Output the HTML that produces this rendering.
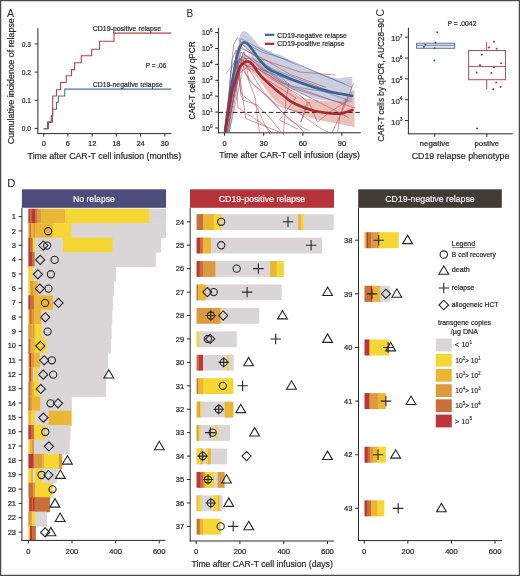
<!DOCTYPE html>
<html><head><meta charset="utf-8"><style>html,body{margin:0;padding:0;background:#fff;}svg text{font-family:"Liberation Sans", sans-serif;} svg{will-change:transform;}</style></head><body>
<svg width="520" height="576" viewBox="0 0 520 576" style="display:block;font-family:&quot;Liberation Sans&quot;, sans-serif">
<rect x="0" y="0" width="520" height="576" fill="#ffffff"/>
<text x="6.9" y="16.8" font-size="10.6" text-anchor="start" fill="#2a2a2a" stroke="#2a2a2a" stroke-width="0.05" >A</text>
<text x="0" y="0" font-size="9.4" text-anchor="middle" fill="#2a2a2a" stroke="#2a2a2a" stroke-width="0.22" textLength="126" lengthAdjust="spacingAndGlyphs" transform="translate(14.3,81.2) rotate(-90)">Cumulative incidence of relapse</text>
<line x1="37.9" y1="28.2" x2="37.9" y2="134.0" stroke="#2a2a2a" stroke-width="1" />
<line x1="37.4" y1="133.6" x2="171.5" y2="133.6" stroke="#2a2a2a" stroke-width="1" />
<line x1="34.6" y1="128.4" x2="37.9" y2="128.4" stroke="#2a2a2a" stroke-width="1" />
<text x="31.0" y="131.20000000000002" font-size="7.6" text-anchor="end" fill="#2a2a2a" stroke="#2a2a2a" stroke-width="0.22" textLength="9.2" lengthAdjust="spacingAndGlyphs" >0.0</text>
<line x1="34.6" y1="100.25" x2="37.9" y2="100.25" stroke="#2a2a2a" stroke-width="1" />
<text x="31.0" y="103.05" font-size="7.6" text-anchor="end" fill="#2a2a2a" stroke="#2a2a2a" stroke-width="0.22" textLength="9.2" lengthAdjust="spacingAndGlyphs" >0.1</text>
<line x1="34.6" y1="72.10000000000001" x2="37.9" y2="72.10000000000001" stroke="#2a2a2a" stroke-width="1" />
<text x="31.0" y="74.9" font-size="7.6" text-anchor="end" fill="#2a2a2a" stroke="#2a2a2a" stroke-width="0.22" textLength="9.2" lengthAdjust="spacingAndGlyphs" >0.2</text>
<line x1="34.6" y1="43.95000000000002" x2="37.9" y2="43.95000000000002" stroke="#2a2a2a" stroke-width="1" />
<text x="31.0" y="46.750000000000014" font-size="7.6" text-anchor="end" fill="#2a2a2a" stroke="#2a2a2a" stroke-width="0.22" textLength="9.2" lengthAdjust="spacingAndGlyphs" >0.3</text>
<line x1="43.75" y1="133.6" x2="43.75" y2="136.6" stroke="#2a2a2a" stroke-width="1" />
<text x="43.75" y="146.2" font-size="7.5" text-anchor="middle" fill="#2a2a2a" stroke="#2a2a2a" stroke-width="0.22" >0</text>
<line x1="67.95" y1="133.6" x2="67.95" y2="136.6" stroke="#2a2a2a" stroke-width="1" />
<text x="67.95" y="146.2" font-size="7.5" text-anchor="middle" fill="#2a2a2a" stroke="#2a2a2a" stroke-width="0.22" >6</text>
<line x1="92.15" y1="133.6" x2="92.15" y2="136.6" stroke="#2a2a2a" stroke-width="1" />
<text x="92.15" y="146.2" font-size="7.5" text-anchor="middle" fill="#2a2a2a" stroke="#2a2a2a" stroke-width="0.22" >12</text>
<line x1="116.35" y1="133.6" x2="116.35" y2="136.6" stroke="#2a2a2a" stroke-width="1" />
<text x="116.35" y="146.2" font-size="7.5" text-anchor="middle" fill="#2a2a2a" stroke="#2a2a2a" stroke-width="0.22" >18</text>
<line x1="140.55" y1="133.6" x2="140.55" y2="136.6" stroke="#2a2a2a" stroke-width="1" />
<text x="140.55" y="146.2" font-size="7.5" text-anchor="middle" fill="#2a2a2a" stroke="#2a2a2a" stroke-width="0.22" >24</text>
<line x1="164.75" y1="133.6" x2="164.75" y2="136.6" stroke="#2a2a2a" stroke-width="1" />
<text x="164.75" y="146.2" font-size="7.5" text-anchor="middle" fill="#2a2a2a" stroke="#2a2a2a" stroke-width="0.22" >30</text>
<text x="27.6" y="159.3" font-size="9.6" text-anchor="start" fill="#2a2a2a" stroke="#2a2a2a" stroke-width="0.22" textLength="153.5" lengthAdjust="spacingAndGlyphs" >Time after CAR-T cell infusion (months)</text>
<path d="M43.75,128.75 L48.50,128.75 L48.50,122.10 L52.50,122.10 L52.50,109.20 L56.50,109.20 L56.50,102.30 L58.30,102.30 L58.30,96.00 L64.80,96.00 L64.80,89.10 L171.30,89.10" fill="none" stroke="#4F6E9C" stroke-width="1.1"/>
<path d="M43.75,128.75 L47.50,128.75 L47.50,122.10 L51.25,122.10 L51.25,115.80 L52.70,115.80 L52.70,96.00 L56.50,96.00 L56.50,89.80 L60.60,89.80 L60.60,82.50 L66.25,82.50 L66.25,75.80 L71.50,75.80 L71.50,69.60 L74.60,69.60 L74.60,62.70 L81.25,62.70 L81.25,55.80 L91.70,55.80 L91.70,49.20 L99.60,49.20 L99.60,41.20 L114.00,41.20 L114.00,33.10 L171.30,33.10" fill="none" stroke="#B8404C" stroke-width="1.1"/>
<text x="92.8" y="31.0" font-size="7.9" text-anchor="start" fill="#2a2a2a" stroke="#2a2a2a" stroke-width="0.22" textLength="68.4" lengthAdjust="spacingAndGlyphs" >CD19-positive relapse</text>
<text x="92.8" y="87.1" font-size="7.9" text-anchor="start" fill="#2a2a2a" stroke="#2a2a2a" stroke-width="0.22" textLength="69.9" lengthAdjust="spacingAndGlyphs" >CD19-negative relapse</text>
<text x="145.8" y="68.3" font-size="7.6" text-anchor="start" fill="#2a2a2a" stroke="#2a2a2a" stroke-width="0.22" textLength="20.5" lengthAdjust="spacingAndGlyphs" >P = .06</text>
<text x="186.6" y="16.8" font-size="10.0" text-anchor="start" fill="#2a2a2a" stroke="#2a2a2a" stroke-width="0.05" >B</text>
<text x="0" y="0" font-size="9.4" text-anchor="middle" fill="#2a2a2a" stroke="#2a2a2a" stroke-width="0.22" textLength="78" lengthAdjust="spacingAndGlyphs" transform="translate(195.2,80.5) rotate(-90)">CAR-T cells by qPCR</text>
<line x1="218.4" y1="27.8" x2="218.4" y2="133.2" stroke="#2a2a2a" stroke-width="1" />
<line x1="217.9" y1="132.8" x2="360.8" y2="132.8" stroke="#2a2a2a" stroke-width="1" />
<line x1="215.2" y1="128.0" x2="218.4" y2="128.0" stroke="#2a2a2a" stroke-width="1" />
<text x="212.6" y="130.7" font-size="7.5" text-anchor="end" fill="#2a2a2a" stroke="#2a2a2a" stroke-width="0.18">10<tspan font-size="4.65" dy="-3.15">0</tspan></text>
<line x1="215.2" y1="112.1" x2="218.4" y2="112.1" stroke="#2a2a2a" stroke-width="1" />
<text x="212.6" y="114.8" font-size="7.5" text-anchor="end" fill="#2a2a2a" stroke="#2a2a2a" stroke-width="0.18">10<tspan font-size="4.65" dy="-3.15">1</tspan></text>
<line x1="215.2" y1="96.2" x2="218.4" y2="96.2" stroke="#2a2a2a" stroke-width="1" />
<text x="212.6" y="98.9" font-size="7.5" text-anchor="end" fill="#2a2a2a" stroke="#2a2a2a" stroke-width="0.18">10<tspan font-size="4.65" dy="-3.15">2</tspan></text>
<line x1="215.2" y1="80.30000000000001" x2="218.4" y2="80.30000000000001" stroke="#2a2a2a" stroke-width="1" />
<text x="212.6" y="83.00000000000001" font-size="7.5" text-anchor="end" fill="#2a2a2a" stroke="#2a2a2a" stroke-width="0.18">10<tspan font-size="4.65" dy="-3.15">3</tspan></text>
<line x1="215.2" y1="64.4" x2="218.4" y2="64.4" stroke="#2a2a2a" stroke-width="1" />
<text x="212.6" y="67.10000000000001" font-size="7.5" text-anchor="end" fill="#2a2a2a" stroke="#2a2a2a" stroke-width="0.18">10<tspan font-size="4.65" dy="-3.15">4</tspan></text>
<line x1="215.2" y1="48.5" x2="218.4" y2="48.5" stroke="#2a2a2a" stroke-width="1" />
<text x="212.6" y="51.2" font-size="7.5" text-anchor="end" fill="#2a2a2a" stroke="#2a2a2a" stroke-width="0.18">10<tspan font-size="4.65" dy="-3.15">5</tspan></text>
<line x1="215.2" y1="32.6" x2="218.4" y2="32.6" stroke="#2a2a2a" stroke-width="1" />
<text x="212.6" y="35.300000000000004" font-size="7.5" text-anchor="end" fill="#2a2a2a" stroke="#2a2a2a" stroke-width="0.18">10<tspan font-size="4.65" dy="-3.15">6</tspan></text>
<line x1="224.6" y1="132.8" x2="224.6" y2="135.8" stroke="#2a2a2a" stroke-width="1" />
<text x="224.6" y="146.2" font-size="7.5" text-anchor="middle" fill="#2a2a2a" stroke="#2a2a2a" stroke-width="0.22" >0</text>
<line x1="263.699" y1="132.8" x2="263.699" y2="135.8" stroke="#2a2a2a" stroke-width="1" />
<text x="263.699" y="146.2" font-size="7.5" text-anchor="middle" fill="#2a2a2a" stroke="#2a2a2a" stroke-width="0.22" >30</text>
<line x1="302.798" y1="132.8" x2="302.798" y2="135.8" stroke="#2a2a2a" stroke-width="1" />
<text x="302.798" y="146.2" font-size="7.5" text-anchor="middle" fill="#2a2a2a" stroke="#2a2a2a" stroke-width="0.22" >60</text>
<line x1="341.897" y1="132.8" x2="341.897" y2="135.8" stroke="#2a2a2a" stroke-width="1" />
<text x="341.897" y="146.2" font-size="7.5" text-anchor="middle" fill="#2a2a2a" stroke="#2a2a2a" stroke-width="0.22" >90</text>
<text x="219.2" y="158.3" font-size="9.6" text-anchor="start" fill="#2a2a2a" stroke="#2a2a2a" stroke-width="0.22" textLength="140.7" lengthAdjust="spacingAndGlyphs" >Time after CAR-T cell infusion (days)</text>
<path d="M240.00,63.00 C240.25,61.83 240.80,57.33 241.50,56.00 C242.20,54.67 242.37,54.83 244.20,55.00 C246.03,55.17 249.73,55.43 252.50,57.00 C255.27,58.57 257.67,61.62 260.80,64.40 C263.93,67.18 268.10,71.10 271.30,73.70 C274.50,76.30 276.30,76.87 280.00,80.00 C283.70,83.13 289.92,89.67 293.50,92.50 C297.08,95.33 298.30,95.83 301.50,97.00 C304.70,98.17 307.63,98.75 312.70,99.50 C317.77,100.25 326.77,101.42 331.90,101.50 C337.03,101.58 340.32,101.58 343.50,100.00 C346.68,98.42 349.17,93.83 351.00,92.00 C352.83,90.17 353.92,89.50 354.50,89.00 L354.50,128.00 C354.00,127.75 355.27,127.42 351.50,126.50 C347.73,125.58 338.37,123.83 331.90,122.50 C325.43,121.17 319.10,120.33 312.70,118.50 C306.30,116.67 299.92,114.58 293.50,111.50 C287.08,108.42 279.65,104.92 274.20,100.00 C268.75,95.08 264.42,86.50 260.80,82.00 C257.18,77.50 255.27,75.33 252.50,73.00 C249.73,70.67 246.28,69.67 244.20,68.00 C242.12,66.33 240.70,63.83 240.00,63.00 Z" fill="#D98C84" fill-opacity="0.55" stroke="none"/>
<path d="M238.50,41.00 C238.83,39.83 239.55,35.67 240.50,34.00 C241.45,32.33 242.55,30.80 244.20,31.00 C245.85,31.20 248.50,33.45 250.40,35.20 C252.30,36.95 253.87,39.58 255.60,41.50 C257.33,43.42 258.18,44.97 260.80,46.70 C263.42,48.43 268.10,50.52 271.30,51.90 C274.50,53.28 277.38,53.90 280.00,55.00 C282.62,56.10 284.75,57.25 287.00,58.50 C289.25,59.75 291.08,61.00 293.50,62.50 C295.92,64.00 298.30,66.00 301.50,67.50 C304.70,69.00 308.90,70.28 312.70,71.50 C316.50,72.72 320.33,73.68 324.30,74.80 C328.27,75.92 333.05,77.75 336.50,78.20 C339.95,78.65 342.38,77.78 345.00,77.50 C347.62,77.22 351.00,76.67 352.20,76.50 L352.20,102.00 C351.00,102.17 347.53,103.00 345.00,103.00 C342.47,103.00 340.33,102.42 337.00,102.00 C333.67,101.58 329.05,101.17 325.00,100.50 C320.95,99.83 316.03,98.83 312.70,98.00 C309.37,97.17 308.20,96.83 305.00,95.50 C301.80,94.17 296.83,91.58 293.50,90.00 C290.17,88.42 288.22,87.67 285.00,86.00 C281.78,84.33 277.53,82.17 274.20,80.00 C270.87,77.83 268.20,76.00 265.00,73.00 C261.80,70.00 257.50,65.33 255.00,62.00 C252.50,58.67 251.83,55.67 250.00,53.00 C248.17,50.33 245.92,48.00 244.00,46.00 C242.08,44.00 239.42,41.83 238.50,41.00 Z" fill="#8E92B4" fill-opacity="0.45" stroke="none"/>
<path d="M225.0,133.0 L233.6,44.8 L237.3,37.5 L243.0,45.0 L258.0,58.0 L300.0,72.0 L335.4,75.1" fill="none" stroke="#B03A48" stroke-width="0.65" stroke-opacity="0.8"/>
<path d="M226.0,133.0 L232.0,60.0 L236.0,50.0 L241.0,95.4 L242.6,100.0 L256.5,104.6 L270.0,118.0 L282.0,133.0" fill="none" stroke="#B03A48" stroke-width="0.65" stroke-opacity="0.8"/>
<path d="M225.0,133.0 L235.0,70.0 L244.0,52.0 L248.8,80.0 L276.5,104.6 L298.0,112.3 L320.0,128.0 L330.0,133.0" fill="none" stroke="#B03A48" stroke-width="0.65" stroke-opacity="0.8"/>
<path d="M226.0,133.0 L237.0,62.0 L253.4,84.6 L264.0,93.8 L285.7,115.4 L298.0,126.0 L305.0,133.0" fill="none" stroke="#B03A48" stroke-width="0.65" stroke-opacity="0.8"/>
<path d="M225.0,133.0 L238.0,66.0 L241.0,93.8 L256.5,106.2 L264.0,123.0 L270.3,135.0" fill="none" stroke="#B03A48" stroke-width="0.65" stroke-opacity="0.8"/>
<path d="M228.0,133.0 L240.0,58.0 L255.0,97.0 L259.5,133.0" fill="none" stroke="#B03A48" stroke-width="0.65" stroke-opacity="0.8"/>
<path d="M225.0,133.0 L236.0,76.0 L238.0,107.7 L265.7,126.0 L272.0,133.0" fill="none" stroke="#B03A48" stroke-width="0.65" stroke-opacity="0.8"/>
<path d="M227.0,133.0 L239.0,70.0 L245.7,118.5 L276.5,130.8 L280.0,133.0" fill="none" stroke="#B03A48" stroke-width="0.65" stroke-opacity="0.8"/>
<path d="M226.0,133.0 L240.0,48.0 L262.0,58.0 L290.0,74.4 L326.0,87.4" fill="none" stroke="#B03A48" stroke-width="0.65" stroke-opacity="0.8"/>
<path d="M225.0,133.0 L241.0,52.0 L262.0,68.0 L290.0,87.4 L349.0,117.7" fill="none" stroke="#B03A48" stroke-width="0.65" stroke-opacity="0.8"/>
<path d="M227.0,133.0 L242.0,56.0 L270.0,78.0 L300.8,96.0 L307.3,101.8 L300.8,122.0 L308.8,101.8 L317.4,122.0 L330.0,112.0 L349.0,100.0" fill="none" stroke="#B03A48" stroke-width="0.65" stroke-opacity="0.8"/>
<path d="M225.0,133.0 L243.0,60.0 L262.0,90.0 L290.0,120.6 L308.8,130.7" fill="none" stroke="#B03A48" stroke-width="0.65" stroke-opacity="0.8"/>
<path d="M229.0,133.0 L244.0,64.0 L275.0,85.0 L296.0,98.0 L279.5,120.0 L298.0,129.2" fill="none" stroke="#B03A48" stroke-width="0.65" stroke-opacity="0.8"/>
<path d="M288.8,83.0 L286.0,100.0 L283.4,135.0" fill="none" stroke="#B03A48" stroke-width="0.65" stroke-opacity="0.8"/>
<path d="M353.5,83.0 L345.0,105.0 L331.8,133.0" fill="none" stroke="#B03A48" stroke-width="0.65" stroke-opacity="0.8"/>
<path d="M346.0,99.0 L340.0,115.0 L337.6,133.0" fill="none" stroke="#B03A48" stroke-width="0.65" stroke-opacity="0.8"/>
<path d="M225.0,133.0 L238.0,75.0 L250.0,64.0 L280.0,82.0 L320.0,96.0 L355.0,108.0" fill="none" stroke="#B03A48" stroke-width="0.65" stroke-opacity="0.8"/>
<path d="M226.0,133.0 L231.0,70.0 L243.0,42.0 L262.0,52.0 L290.0,60.7 L352.0,87.4" fill="none" stroke="#4F70A0" stroke-width="0.65" stroke-opacity="0.85"/>
<path d="M225.8,74.0 L236.0,60.0 L243.0,64.6 L270.0,72.0 L290.0,86.0 L350.6,96.0" fill="none" stroke="#4F70A0" stroke-width="0.65" stroke-opacity="0.85"/>
<path d="M227.0,133.0 L236.0,53.0 L241.0,38.5 L262.0,50.0 L300.0,66.0 L345.0,84.0" fill="none" stroke="#4F70A0" stroke-width="0.65" stroke-opacity="0.85"/>
<path d="M228.0,133.0 L241.0,47.0 L258.0,58.0 L294.3,88.8 L342.0,103.3" fill="none" stroke="#4F70A0" stroke-width="0.65" stroke-opacity="0.85"/>
<path d="M225.0,133.0 L238.0,60.0 L250.0,58.0 L275.0,70.0 L330.0,91.0 L352.0,95.0" fill="none" stroke="#4F70A0" stroke-width="0.65" stroke-opacity="0.85"/>
<path d="M229.0,133.0 L243.0,52.0 L262.0,70.0 L290.0,80.0 L348.0,100.0" fill="none" stroke="#4F70A0" stroke-width="0.65" stroke-opacity="0.85"/>
<line x1="218.4" y1="112.4" x2="360" y2="112.4" stroke="#222" stroke-width="1.0" stroke-dasharray="4.6,2.6"/>
<path d="M225.10,131.00 C225.90,125.00 228.30,105.57 229.90,95.00 C231.50,84.43 233.48,74.20 234.70,67.60 C235.92,61.00 236.18,59.17 237.20,55.40 C238.22,51.63 239.63,47.18 240.80,45.00 C241.97,42.82 242.95,42.37 244.20,42.30 C245.45,42.23 246.92,43.35 248.30,44.60 C249.68,45.85 251.10,47.90 252.50,49.80 C253.90,51.70 255.32,54.08 256.70,56.00 C258.08,57.92 259.25,59.47 260.80,61.30 C262.35,63.13 264.25,65.45 266.00,67.00 C267.75,68.55 268.97,69.40 271.30,70.60 C273.63,71.80 276.30,72.63 280.00,74.20 C283.70,75.77 288.05,77.90 293.50,80.00 C298.95,82.10 306.30,84.75 312.70,86.80 C319.10,88.85 325.32,90.80 331.90,92.30 C338.48,93.80 348.82,95.22 352.20,95.80" fill="none" stroke="#3F6390" stroke-width="2.6" stroke-linecap="round"/>
<path d="M225.10,131.00 C226.10,125.00 229.28,103.75 231.10,95.00 C232.92,86.25 234.52,83.17 236.00,78.50 C237.48,73.83 238.63,69.70 240.00,67.00 C241.37,64.30 242.82,63.20 244.20,62.30 C245.58,61.40 246.92,61.25 248.30,61.60 C249.68,61.95 251.10,62.90 252.50,64.40 C253.90,65.90 255.32,68.70 256.70,70.60 C258.08,72.50 259.25,74.07 260.80,75.80 C262.35,77.53 264.25,79.37 266.00,81.00 C267.75,82.63 269.80,84.27 271.30,85.60 C272.80,86.93 272.92,87.27 275.00,89.00 C277.08,90.73 280.72,93.67 283.80,96.00 C286.88,98.33 288.68,100.58 293.50,103.00 C298.32,105.42 306.30,108.75 312.70,110.50 C319.10,112.25 327.10,113.00 331.90,113.50 C336.70,114.00 338.07,114.08 341.50,113.50 C344.93,112.92 350.67,110.58 352.50,110.00" fill="none" stroke="#A52A35" stroke-width="2.6" stroke-linecap="round"/>
<line x1="264.8" y1="34.8" x2="274.4" y2="34.8" stroke="#3F6390" stroke-width="2.2" />
<line x1="264.8" y1="43.8" x2="274.4" y2="43.8" stroke="#A52A35" stroke-width="2.2" />
<text x="277.3" y="37.5" font-size="7.8" text-anchor="start" fill="#2a2a2a" stroke="#2a2a2a" stroke-width="0.22" textLength="69.6" lengthAdjust="spacingAndGlyphs" >CD19-negative relapse</text>
<text x="277.3" y="46.3" font-size="7.8" text-anchor="start" fill="#2a2a2a" stroke="#2a2a2a" stroke-width="0.22" textLength="67.3" lengthAdjust="spacingAndGlyphs" >CD19-positive relapse</text>
<text x="0" y="0" font-size="10.6" text-anchor="middle" fill="#2a2a2a" transform="translate(383.6,12.6) rotate(-90)">C</text>
<text x="0" y="0" font-size="9.6" text-anchor="middle" fill="#2a2a2a" stroke="#2a2a2a" stroke-width="0.22" textLength="123.5" lengthAdjust="spacingAndGlyphs" transform="translate(384.4,80.0) rotate(-90)">CAR-T cells by qPCR, AUC28–90</text>
<line x1="408.4" y1="27.7" x2="408.4" y2="134.2" stroke="#2a2a2a" stroke-width="1" />
<line x1="407.9" y1="133.8" x2="512.8" y2="133.8" stroke="#2a2a2a" stroke-width="1" />
<line x1="405.0" y1="120.60000000000001" x2="408.4" y2="120.60000000000001" stroke="#2a2a2a" stroke-width="1" />
<text x="402.6" y="124.60000000000001" font-size="7.9" text-anchor="end" fill="#2a2a2a" stroke="#2a2a2a" stroke-width="0.18">10<tspan font-size="4.90" dy="-3.32">3</tspan></text>
<line x1="405.0" y1="99.75" x2="408.4" y2="99.75" stroke="#2a2a2a" stroke-width="1" />
<text x="402.6" y="103.75" font-size="7.9" text-anchor="end" fill="#2a2a2a" stroke="#2a2a2a" stroke-width="0.18">10<tspan font-size="4.90" dy="-3.32">4</tspan></text>
<line x1="405.0" y1="78.9" x2="408.4" y2="78.9" stroke="#2a2a2a" stroke-width="1" />
<text x="402.6" y="82.9" font-size="7.9" text-anchor="end" fill="#2a2a2a" stroke="#2a2a2a" stroke-width="0.18">10<tspan font-size="4.90" dy="-3.32">5</tspan></text>
<line x1="405.0" y1="58.050000000000004" x2="408.4" y2="58.050000000000004" stroke="#2a2a2a" stroke-width="1" />
<text x="402.6" y="62.050000000000004" font-size="7.9" text-anchor="end" fill="#2a2a2a" stroke="#2a2a2a" stroke-width="0.18">10<tspan font-size="4.90" dy="-3.32">6</tspan></text>
<line x1="405.0" y1="37.2" x2="408.4" y2="37.2" stroke="#2a2a2a" stroke-width="1" />
<text x="402.6" y="41.2" font-size="7.9" text-anchor="end" fill="#2a2a2a" stroke="#2a2a2a" stroke-width="0.18">10<tspan font-size="4.90" dy="-3.32">7</tspan></text>
<line x1="434.7" y1="133.8" x2="434.7" y2="136.8" stroke="#2a2a2a" stroke-width="1" />
<line x1="486.9" y1="133.8" x2="486.9" y2="136.8" stroke="#2a2a2a" stroke-width="1" />
<text x="434.6" y="146.2" font-size="7.4" text-anchor="middle" fill="#2a2a2a" stroke="#2a2a2a" stroke-width="0.22" textLength="30" lengthAdjust="spacingAndGlyphs" >negative</text>
<text x="486.8" y="146.2" font-size="7.4" text-anchor="middle" fill="#2a2a2a" stroke="#2a2a2a" stroke-width="0.22" textLength="24.5" lengthAdjust="spacingAndGlyphs" >postive</text>
<text x="411.7" y="159.3" font-size="9.8" text-anchor="start" fill="#2a2a2a" stroke="#2a2a2a" stroke-width="0.22" textLength="97.7" lengthAdjust="spacingAndGlyphs" >CD19 relapse phenotype</text>
<text x="461.9" y="25.8" font-size="7.6" text-anchor="middle" fill="#2a2a2a" stroke="#2a2a2a" stroke-width="0.22" textLength="29" lengthAdjust="spacingAndGlyphs" >P = .0042</text>
<rect x="416.6" y="43.2" width="38" height="5.1" fill="#E3E6EC" stroke="#5A7099" stroke-width="0.95"/>
<line x1="416.6" y1="45.3" x2="454.6" y2="45.3" stroke="#5A7099" stroke-width="0.85" />
<rect x="468.6" y="50.5" width="36.9" height="29.2" fill="none" stroke="#B84C57" stroke-width="1"/>
<line x1="468.6" y1="66.4" x2="505.5" y2="66.4" stroke="#B84C57" stroke-width="1" />
<line x1="486.7" y1="42.1" x2="486.7" y2="50.5" stroke="#B84C57" stroke-width="1" />
<line x1="486.7" y1="79.7" x2="486.7" y2="89.0" stroke="#B84C57" stroke-width="1" />
<circle cx="437.2" cy="32.2" r="0.95" fill="#34548A"/>
<circle cx="425.4" cy="44.8" r="0.95" fill="#34548A"/>
<circle cx="423.9" cy="47" r="0.95" fill="#34548A"/>
<circle cx="435.4" cy="42.6" r="0.95" fill="#34548A"/>
<circle cx="434.7" cy="48.3" r="0.95" fill="#34548A"/>
<circle cx="434.3" cy="60.5" r="0.95" fill="#34548A"/>
<circle cx="494" cy="41.7" r="1.0" fill="#AA303C"/>
<circle cx="488.9" cy="47.6" r="1.0" fill="#AA303C"/>
<circle cx="496.6" cy="48.7" r="1.0" fill="#AA303C"/>
<circle cx="481.8" cy="54.7" r="1.0" fill="#AA303C"/>
<circle cx="501" cy="63.3" r="1.0" fill="#AA303C"/>
<circle cx="480" cy="65.3" r="1.0" fill="#AA303C"/>
<circle cx="494" cy="67.5" r="1.0" fill="#AA303C"/>
<circle cx="476.7" cy="72.4" r="1.0" fill="#AA303C"/>
<circle cx="491.3" cy="73.1" r="1.0" fill="#AA303C"/>
<circle cx="496.2" cy="82.4" r="1.0" fill="#AA303C"/>
<circle cx="500.6" cy="87" r="1.0" fill="#AA303C"/>
<circle cx="493.3" cy="89.2" r="1.0" fill="#AA303C"/>
<circle cx="477" cy="128.4" r="1.0" fill="#AA303C"/>
<text x="7.2" y="186.8" font-size="11.2" text-anchor="start" fill="#2a2a2a" stroke="#2a2a2a" stroke-width="0.05" >D</text>
<rect x="21.90" y="189.30" width="144.10" height="18.50" fill="#4E4C7A" />
<text x="93.95" y="201.8" font-size="9.2" text-anchor="middle" fill="#F6F6F6" stroke="#F6F6F6" stroke-width="0.2" textLength="41.8" lengthAdjust="spacingAndGlyphs" >No relapse</text>
<rect x="190.00" y="189.30" width="144.00" height="18.50" fill="#B5343A" />
<text x="262.0" y="201.8" font-size="9.2" text-anchor="middle" fill="#F6F6F6" stroke="#F6F6F6" stroke-width="0.2" textLength="86.5" lengthAdjust="spacingAndGlyphs" >CD19-positive relapse</text>
<rect x="358.20" y="189.30" width="143.60" height="18.50" fill="#403B35" />
<text x="430.0" y="201.8" font-size="9.2" text-anchor="middle" fill="#F6F6F6" stroke="#F6F6F6" stroke-width="0.2" textLength="89.4" lengthAdjust="spacingAndGlyphs" >CD19-negative relapse</text>
<rect x="28.40" y="208.80" width="137.60" height="15.00" fill="#DAD6D7" />
<rect x="28.40" y="208.80" width="1.90" height="15.00" fill="#BF353A" />
<rect x="29.80" y="208.80" width="2.40" height="15.00" fill="#C8703A" />
<rect x="31.70" y="208.80" width="3.90" height="15.00" fill="#BF353A" />
<rect x="35.10" y="208.80" width="2.40" height="15.00" fill="#C8703A" />
<rect x="37.00" y="208.80" width="4.40" height="15.00" fill="#DC9A3F" />
<rect x="40.90" y="208.80" width="24.70" height="15.00" fill="#EBB633" />
<rect x="65.10" y="208.80" width="84.30" height="15.00" fill="#F5D632" />
<rect x="28.40" y="223.22" width="137.60" height="15.00" fill="#DAD6D7" />
<rect x="28.40" y="223.22" width="1.60" height="15.00" fill="#EBB633" />
<rect x="29.50" y="223.22" width="2.00" height="15.00" fill="#C8703A" />
<rect x="31.00" y="223.22" width="2.70" height="15.00" fill="#EBB633" />
<rect x="33.20" y="223.22" width="2.40" height="15.00" fill="#DC9A3F" />
<rect x="35.10" y="223.22" width="18.30" height="15.00" fill="#EBB633" />
<rect x="52.90" y="223.22" width="18.70" height="15.00" fill="#F5D632" />
<rect x="28.40" y="237.64" width="132.60" height="15.00" fill="#DAD6D7" />
<rect x="28.40" y="237.64" width="1.90" height="15.00" fill="#BF353A" />
<rect x="29.80" y="237.64" width="3.40" height="15.00" fill="#C8703A" />
<rect x="32.70" y="237.64" width="2.40" height="15.00" fill="#F5D632" />
<rect x="63.00" y="237.64" width="49.40" height="15.00" fill="#F5D632" />
<rect x="28.40" y="252.06" width="127.50" height="15.00" fill="#DAD6D7" />
<rect x="28.40" y="252.06" width="4.30" height="15.00" fill="#BF353A" />
<rect x="32.20" y="252.06" width="2.40" height="15.00" fill="#C8703A" />
<rect x="28.40" y="266.48" width="87.50" height="15.00" fill="#DAD6D7" />
<rect x="28.40" y="266.48" width="4.30" height="15.00" fill="#F5D632" />
<rect x="28.40" y="280.90" width="85.60" height="15.00" fill="#DAD6D7" />
<rect x="28.40" y="280.90" width="2.40" height="15.00" fill="#F5D632" />
<rect x="30.30" y="280.90" width="3.20" height="15.00" fill="#DC9A3F" />
<rect x="33.00" y="280.90" width="4.70" height="15.00" fill="#EBB633" />
<rect x="28.40" y="295.32" width="84.50" height="15.00" fill="#DAD6D7" />
<rect x="28.40" y="295.32" width="2.50" height="15.00" fill="#BF353A" />
<rect x="30.40" y="295.32" width="4.00" height="15.00" fill="#C8703A" />
<rect x="33.90" y="295.32" width="19.10" height="15.00" fill="#EBB633" />
<rect x="28.40" y="309.74" width="83.90" height="15.00" fill="#DAD6D7" />
<rect x="28.40" y="309.74" width="1.50" height="15.00" fill="#F5D632" />
<rect x="29.40" y="309.74" width="2.60" height="15.00" fill="#C8703A" />
<rect x="31.50" y="309.74" width="3.00" height="15.00" fill="#DC9A3F" />
<rect x="34.00" y="309.74" width="7.20" height="15.00" fill="#EBB633" />
<rect x="28.40" y="324.16" width="83.30" height="15.00" fill="#DAD6D7" />
<rect x="28.40" y="324.16" width="3.60" height="15.00" fill="#DC9A3F" />
<rect x="31.50" y="324.16" width="2.00" height="15.00" fill="#EBB633" />
<rect x="33.00" y="324.16" width="2.00" height="15.00" fill="#DC9A3F" />
<rect x="34.50" y="324.16" width="7.50" height="15.00" fill="#F5D632" />
<rect x="28.40" y="338.58" width="82.50" height="15.00" fill="#DAD6D7" />
<rect x="28.40" y="338.58" width="2.60" height="15.00" fill="#C8703A" />
<rect x="30.50" y="338.58" width="5.00" height="15.00" fill="#EBB633" />
<rect x="35.00" y="338.58" width="11.40" height="15.00" fill="#F5D632" />
<rect x="28.40" y="353.00" width="79.60" height="15.00" fill="#DAD6D7" />
<rect x="28.40" y="353.00" width="1.50" height="15.00" fill="#EBB633" />
<rect x="29.40" y="353.00" width="2.10" height="15.00" fill="#BF353A" />
<rect x="31.00" y="353.00" width="3.50" height="15.00" fill="#DC9A3F" />
<rect x="34.00" y="353.00" width="5.80" height="15.00" fill="#EBB633" />
<rect x="28.40" y="367.42" width="78.10" height="15.00" fill="#DAD6D7" />
<rect x="28.40" y="367.42" width="1.40" height="15.00" fill="#F5D632" />
<rect x="29.30" y="367.42" width="2.00" height="15.00" fill="#BF353A" />
<rect x="30.80" y="367.42" width="2.00" height="15.00" fill="#DC9A3F" />
<rect x="34.40" y="367.42" width="3.60" height="15.00" fill="#F5D632" />
<rect x="28.40" y="381.84" width="77.60" height="15.00" fill="#DAD6D7" />
<rect x="28.40" y="381.84" width="2.10" height="15.00" fill="#C8703A" />
<rect x="30.00" y="381.84" width="2.50" height="15.00" fill="#DC9A3F" />
<rect x="32.00" y="381.84" width="2.50" height="15.00" fill="#EBB633" />
<rect x="34.00" y="381.84" width="4.80" height="15.00" fill="#F5D632" />
<rect x="28.40" y="396.26" width="43.50" height="15.00" fill="#DAD6D7" />
<rect x="28.40" y="396.26" width="2.10" height="15.00" fill="#C8703A" />
<rect x="30.00" y="396.26" width="2.50" height="15.00" fill="#DC9A3F" />
<rect x="32.00" y="396.26" width="8.30" height="15.00" fill="#EBB633" />
<rect x="28.40" y="410.68" width="43.10" height="15.00" fill="#DAD6D7" />
<rect x="28.40" y="410.68" width="3.10" height="15.00" fill="#EBB633" />
<rect x="31.00" y="410.68" width="3.80" height="15.00" fill="#F5D632" />
<rect x="48.60" y="410.68" width="22.90" height="15.00" fill="#EBB633" />
<rect x="28.40" y="425.10" width="42.10" height="15.00" fill="#DAD6D7" />
<rect x="28.40" y="425.10" width="3.10" height="15.00" fill="#BF353A" />
<rect x="31.00" y="425.10" width="3.50" height="15.00" fill="#C8703A" />
<rect x="34.00" y="425.10" width="11.00" height="15.00" fill="#F5D632" />
<rect x="28.40" y="439.52" width="41.20" height="15.00" fill="#DAD6D7" />
<rect x="28.40" y="439.52" width="2.10" height="15.00" fill="#F5D632" />
<rect x="30.00" y="439.52" width="2.50" height="15.00" fill="#EBB633" />
<rect x="32.00" y="439.52" width="2.00" height="15.00" fill="#DC9A3F" />
<rect x="28.40" y="453.94" width="5.60" height="15.00" fill="#BF353A" />
<rect x="33.50" y="453.94" width="9.30" height="15.00" fill="#DC9A3F" />
<rect x="42.30" y="453.94" width="2.20" height="15.00" fill="#EBB633" />
<rect x="44.00" y="453.94" width="15.50" height="15.00" fill="#F5D632" />
<rect x="59.00" y="453.94" width="3.30" height="15.00" fill="#DC9A3F" />
<rect x="28.40" y="468.36" width="28.20" height="15.00" fill="#DAD6D7" />
<rect x="28.40" y="468.36" width="3.10" height="15.00" fill="#F5D632" />
<rect x="31.00" y="468.36" width="2.00" height="15.00" fill="#EBB633" />
<rect x="35.00" y="468.36" width="7.00" height="15.00" fill="#F5D632" />
<rect x="28.40" y="482.78" width="4.90" height="15.00" fill="#C8703A" />
<rect x="32.80" y="482.78" width="2.70" height="15.00" fill="#DC9A3F" />
<rect x="35.00" y="482.78" width="17.70" height="15.00" fill="#F5D632" />
<rect x="28.40" y="497.20" width="1.30" height="15.00" fill="#F5D632" />
<rect x="29.20" y="497.20" width="2.90" height="15.00" fill="#BF353A" />
<rect x="31.60" y="497.20" width="1.90" height="15.00" fill="#C8703A" />
<rect x="33.00" y="497.20" width="2.00" height="15.00" fill="#BF353A" />
<rect x="34.50" y="497.20" width="15.50" height="15.00" fill="#C8703A" />
<rect x="28.40" y="511.62" width="18.60" height="15.00" fill="#DAD6D7" />
<rect x="28.40" y="511.62" width="3.70" height="15.00" fill="#DC9A3F" />
<rect x="31.60" y="511.62" width="3.20" height="15.00" fill="#F5D632" />
<rect x="28.40" y="526.04" width="2.00" height="14.10" fill="#F5D632" />
<rect x="29.90" y="526.04" width="2.80" height="14.10" fill="#BF353A" />
<rect x="32.20" y="526.04" width="3.70" height="14.10" fill="#C8703A" />
<circle cx="48.1" cy="231.24" r="3.6" fill="none" stroke="#262626" stroke-width="1.1"/>
<path d="M38.70,245.58 L43.30,240.98 L47.90,245.58 L43.30,250.18 Z" fill="none" stroke="#262626" stroke-width="1.1"/>
<circle cx="47.1" cy="245.58" r="3.6" fill="none" stroke="#262626" stroke-width="1.1"/>
<path d="M35.60,259.92 L40.20,255.32 L44.80,259.92 L40.20,264.52 Z" fill="none" stroke="#262626" stroke-width="1.1"/>
<circle cx="54.6" cy="259.92" r="3.6" fill="none" stroke="#262626" stroke-width="1.1"/>
<path d="M33.30,274.26 L37.90,269.66 L42.50,274.26 L37.90,278.86 Z" fill="none" stroke="#262626" stroke-width="1.1"/>
<circle cx="50.9" cy="274.26" r="3.6" fill="none" stroke="#262626" stroke-width="1.1"/>
<path d="M35.20,288.60 L39.80,284.00 L44.40,288.60 L39.80,293.20 Z" fill="none" stroke="#262626" stroke-width="1.1"/>
<circle cx="48.5" cy="288.6" r="3.6" fill="none" stroke="#262626" stroke-width="1.1"/>
<circle cx="45" cy="302.94" r="3.6" fill="none" stroke="#262626" stroke-width="1.1"/>
<path d="M53.90,302.94 L58.50,298.34 L63.10,302.94 L58.50,307.54 Z" fill="none" stroke="#262626" stroke-width="1.1"/>
<path d="M40.70,317.28 L45.30,312.68 L49.90,317.28 L45.30,321.88 Z" fill="none" stroke="#262626" stroke-width="1.1"/>
<circle cx="47.6" cy="331.62" r="3.6" fill="none" stroke="#262626" stroke-width="1.1"/>
<path d="M35.70,345.96 L40.30,341.36 L44.90,345.96 L40.30,350.56 Z" fill="none" stroke="#262626" stroke-width="1.1"/>
<path d="M39.50,360.30 L44.10,355.70 L48.70,360.30 L44.10,364.90 Z" fill="none" stroke="#262626" stroke-width="1.1"/>
<circle cx="51.9" cy="360.3" r="3.6" fill="none" stroke="#262626" stroke-width="1.1"/>
<path d="M38.70,374.64 L43.30,370.04 L47.90,374.64 L43.30,379.24 Z" fill="none" stroke="#262626" stroke-width="1.1"/>
<circle cx="53.2" cy="374.64000000000004" r="3.6" fill="none" stroke="#262626" stroke-width="1.1"/>
<path d="M103.90,378.04 L108.80,369.64 L113.70,378.04 Z" fill="none" stroke="#262626" stroke-width="1.1" stroke-linejoin="miter"/>
<path d="M36.20,388.98 L40.80,384.38 L45.40,388.98 L40.80,393.58 Z" fill="none" stroke="#262626" stroke-width="1.1"/>
<circle cx="50.5" cy="403.32" r="3.6" fill="none" stroke="#262626" stroke-width="1.1"/>
<path d="M53.40,403.32 L58.00,398.72 L62.60,403.32 L58.00,407.92 Z" fill="none" stroke="#262626" stroke-width="1.1"/>
<path d="M38.80,417.66 L43.40,413.06 L48.00,417.66 L43.40,422.26 Z" fill="none" stroke="#262626" stroke-width="1.1"/>
<circle cx="45.3" cy="432.0" r="3.6" fill="none" stroke="#262626" stroke-width="1.1"/>
<path d="M44.30,446.34 L48.90,441.74 L53.50,446.34 L48.90,450.94 Z" fill="none" stroke="#262626" stroke-width="1.1"/>
<path d="M154.40,449.74 L159.30,441.34 L164.20,449.74 Z" fill="none" stroke="#262626" stroke-width="1.1" stroke-linejoin="miter"/>
<path d="M62.50,464.08 L67.40,455.68 L72.30,464.08 Z" fill="none" stroke="#262626" stroke-width="1.1" stroke-linejoin="miter"/>
<circle cx="41.5" cy="475.02000000000004" r="3.6" fill="none" stroke="#262626" stroke-width="1.1"/>
<path d="M43.80,475.02 L48.40,470.42 L53.00,475.02 L48.40,479.62 Z" fill="none" stroke="#262626" stroke-width="1.1"/>
<path d="M55.50,478.42 L60.40,470.02 L65.30,478.42 Z" fill="none" stroke="#262626" stroke-width="1.1" stroke-linejoin="miter"/>
<circle cx="52.5" cy="489.35999999999996" r="3.6" fill="none" stroke="#262626" stroke-width="1.1"/>
<path d="M50.10,507.10 L55.00,498.70 L59.90,507.10 Z" fill="none" stroke="#262626" stroke-width="1.1" stroke-linejoin="miter"/>
<path d="M55.20,521.44 L60.10,513.04 L65.00,521.44 Z" fill="none" stroke="#262626" stroke-width="1.1" stroke-linejoin="miter"/>
<path d="M40.50,532.38 L45.10,527.78 L49.70,532.38 L45.10,536.98 Z" fill="none" stroke="#262626" stroke-width="1.1"/>
<path d="M46.00,535.78 L50.90,527.38 L55.80,535.78 Z" fill="none" stroke="#262626" stroke-width="1.1" stroke-linejoin="miter"/>
<line x1="21.9" y1="207.8" x2="21.9" y2="540.9" stroke="#2a2a2a" stroke-width="1" />
<line x1="21.4" y1="540.4" x2="165.5" y2="540.4" stroke="#2a2a2a" stroke-width="1" />
<line x1="18.6" y1="216.6" x2="21.9" y2="216.6" stroke="#2a2a2a" stroke-width="1" />
<text x="16.0" y="219.29999999999998" font-size="7.5" text-anchor="end" fill="#2a2a2a" stroke="#2a2a2a" stroke-width="0.22" >1</text>
<line x1="18.6" y1="230.94" x2="21.9" y2="230.94" stroke="#2a2a2a" stroke-width="1" />
<text x="16.0" y="233.64" font-size="7.5" text-anchor="end" fill="#2a2a2a" stroke="#2a2a2a" stroke-width="0.22" >2</text>
<line x1="18.6" y1="245.28" x2="21.9" y2="245.28" stroke="#2a2a2a" stroke-width="1" />
<text x="16.0" y="247.98" font-size="7.5" text-anchor="end" fill="#2a2a2a" stroke="#2a2a2a" stroke-width="0.22" >3</text>
<line x1="18.6" y1="259.62" x2="21.9" y2="259.62" stroke="#2a2a2a" stroke-width="1" />
<text x="16.0" y="262.32" font-size="7.5" text-anchor="end" fill="#2a2a2a" stroke="#2a2a2a" stroke-width="0.22" >4</text>
<line x1="18.6" y1="273.96" x2="21.9" y2="273.96" stroke="#2a2a2a" stroke-width="1" />
<text x="16.0" y="276.65999999999997" font-size="7.5" text-anchor="end" fill="#2a2a2a" stroke="#2a2a2a" stroke-width="0.22" >5</text>
<line x1="18.6" y1="288.3" x2="21.9" y2="288.3" stroke="#2a2a2a" stroke-width="1" />
<text x="16.0" y="291.0" font-size="7.5" text-anchor="end" fill="#2a2a2a" stroke="#2a2a2a" stroke-width="0.22" >6</text>
<line x1="18.6" y1="302.64" x2="21.9" y2="302.64" stroke="#2a2a2a" stroke-width="1" />
<text x="16.0" y="305.34" font-size="7.5" text-anchor="end" fill="#2a2a2a" stroke="#2a2a2a" stroke-width="0.22" >7</text>
<line x1="18.6" y1="316.98" x2="21.9" y2="316.98" stroke="#2a2a2a" stroke-width="1" />
<text x="16.0" y="319.68" font-size="7.5" text-anchor="end" fill="#2a2a2a" stroke="#2a2a2a" stroke-width="0.22" >8</text>
<line x1="18.6" y1="331.32" x2="21.9" y2="331.32" stroke="#2a2a2a" stroke-width="1" />
<text x="16.0" y="334.02" font-size="7.5" text-anchor="end" fill="#2a2a2a" stroke="#2a2a2a" stroke-width="0.22" >9</text>
<line x1="18.6" y1="345.65999999999997" x2="21.9" y2="345.65999999999997" stroke="#2a2a2a" stroke-width="1" />
<text x="16.0" y="348.35999999999996" font-size="7.5" text-anchor="end" fill="#2a2a2a" stroke="#2a2a2a" stroke-width="0.22" >10</text>
<line x1="18.6" y1="360.0" x2="21.9" y2="360.0" stroke="#2a2a2a" stroke-width="1" />
<text x="16.0" y="362.7" font-size="7.5" text-anchor="end" fill="#2a2a2a" stroke="#2a2a2a" stroke-width="0.22" >11</text>
<line x1="18.6" y1="374.34000000000003" x2="21.9" y2="374.34000000000003" stroke="#2a2a2a" stroke-width="1" />
<text x="16.0" y="377.04" font-size="7.5" text-anchor="end" fill="#2a2a2a" stroke="#2a2a2a" stroke-width="0.22" >12</text>
<line x1="18.6" y1="388.67999999999995" x2="21.9" y2="388.67999999999995" stroke="#2a2a2a" stroke-width="1" />
<text x="16.0" y="391.37999999999994" font-size="7.5" text-anchor="end" fill="#2a2a2a" stroke="#2a2a2a" stroke-width="0.22" >13</text>
<line x1="18.6" y1="403.02" x2="21.9" y2="403.02" stroke="#2a2a2a" stroke-width="1" />
<text x="16.0" y="405.71999999999997" font-size="7.5" text-anchor="end" fill="#2a2a2a" stroke="#2a2a2a" stroke-width="0.22" >14</text>
<line x1="18.6" y1="417.36" x2="21.9" y2="417.36" stroke="#2a2a2a" stroke-width="1" />
<text x="16.0" y="420.06" font-size="7.5" text-anchor="end" fill="#2a2a2a" stroke="#2a2a2a" stroke-width="0.22" >15</text>
<line x1="18.6" y1="431.7" x2="21.9" y2="431.7" stroke="#2a2a2a" stroke-width="1" />
<text x="16.0" y="434.4" font-size="7.5" text-anchor="end" fill="#2a2a2a" stroke="#2a2a2a" stroke-width="0.22" >16</text>
<line x1="18.6" y1="446.03999999999996" x2="21.9" y2="446.03999999999996" stroke="#2a2a2a" stroke-width="1" />
<text x="16.0" y="448.73999999999995" font-size="7.5" text-anchor="end" fill="#2a2a2a" stroke="#2a2a2a" stroke-width="0.22" >17</text>
<line x1="18.6" y1="460.38" x2="21.9" y2="460.38" stroke="#2a2a2a" stroke-width="1" />
<text x="16.0" y="463.08" font-size="7.5" text-anchor="end" fill="#2a2a2a" stroke="#2a2a2a" stroke-width="0.22" >18</text>
<line x1="18.6" y1="474.72" x2="21.9" y2="474.72" stroke="#2a2a2a" stroke-width="1" />
<text x="16.0" y="477.42" font-size="7.5" text-anchor="end" fill="#2a2a2a" stroke="#2a2a2a" stroke-width="0.22" >19</text>
<line x1="18.6" y1="489.05999999999995" x2="21.9" y2="489.05999999999995" stroke="#2a2a2a" stroke-width="1" />
<text x="16.0" y="491.75999999999993" font-size="7.5" text-anchor="end" fill="#2a2a2a" stroke="#2a2a2a" stroke-width="0.22" >20</text>
<line x1="18.6" y1="503.4" x2="21.9" y2="503.4" stroke="#2a2a2a" stroke-width="1" />
<text x="16.0" y="506.09999999999997" font-size="7.5" text-anchor="end" fill="#2a2a2a" stroke="#2a2a2a" stroke-width="0.22" >21</text>
<line x1="18.6" y1="517.74" x2="21.9" y2="517.74" stroke="#2a2a2a" stroke-width="1" />
<text x="16.0" y="520.44" font-size="7.5" text-anchor="end" fill="#2a2a2a" stroke="#2a2a2a" stroke-width="0.22" >22</text>
<line x1="18.6" y1="532.08" x2="21.9" y2="532.08" stroke="#2a2a2a" stroke-width="1" />
<text x="16.0" y="534.7800000000001" font-size="7.5" text-anchor="end" fill="#2a2a2a" stroke="#2a2a2a" stroke-width="0.22" >23</text>
<line x1="28.4" y1="540.4" x2="28.4" y2="543.4" stroke="#2a2a2a" stroke-width="1" />
<text x="28.4" y="553.8" font-size="7.5" text-anchor="middle" fill="#2a2a2a" stroke="#2a2a2a" stroke-width="0.22" >0</text>
<line x1="72.0" y1="540.4" x2="72.0" y2="543.4" stroke="#2a2a2a" stroke-width="1" />
<text x="72.0" y="553.8" font-size="7.5" text-anchor="middle" fill="#2a2a2a" stroke="#2a2a2a" stroke-width="0.22" >200</text>
<line x1="115.6" y1="540.4" x2="115.6" y2="543.4" stroke="#2a2a2a" stroke-width="1" />
<text x="115.6" y="553.8" font-size="7.5" text-anchor="middle" fill="#2a2a2a" stroke="#2a2a2a" stroke-width="0.22" >400</text>
<line x1="159.20000000000002" y1="540.4" x2="159.20000000000002" y2="543.4" stroke="#2a2a2a" stroke-width="1" />
<text x="159.20000000000002" y="553.8" font-size="7.5" text-anchor="middle" fill="#2a2a2a" stroke="#2a2a2a" stroke-width="0.22" >600</text>
<rect x="196.60" y="214.20" width="137.10" height="15.80" fill="#DAD6D7" />
<rect x="196.60" y="214.20" width="6.90" height="15.80" fill="#C8703A" />
<rect x="203.00" y="214.20" width="11.20" height="15.80" fill="#EBB633" />
<rect x="213.70" y="214.20" width="7.50" height="15.80" fill="#F5D632" />
<rect x="298.20" y="214.20" width="3.30" height="15.80" fill="#EBB633" />
<rect x="301.00" y="214.20" width="2.30" height="15.80" fill="#F5D632" />
<circle cx="221.2" cy="221.8" r="3.6" fill="none" stroke="#262626" stroke-width="1.1"/>
<path d="M282.80,221.80 H293.20 M288.00,216.60 V227.00" fill="none" stroke="#262626" stroke-width="1.1"/>
<rect x="196.60" y="237.63" width="125.50" height="15.80" fill="#DAD6D7" />
<rect x="196.60" y="237.63" width="3.90" height="15.80" fill="#BF353A" />
<rect x="200.00" y="237.63" width="3.30" height="15.80" fill="#C8703A" />
<rect x="202.80" y="237.63" width="8.10" height="15.80" fill="#EBB633" />
<circle cx="221.2" cy="245.23000000000002" r="3.6" fill="none" stroke="#262626" stroke-width="1.1"/>
<path d="M305.90,245.23 H316.30 M311.10,240.03 V250.43" fill="none" stroke="#262626" stroke-width="1.1"/>
<rect x="196.60" y="261.06" width="87.10" height="15.80" fill="#DAD6D7" />
<rect x="196.60" y="261.06" width="3.40" height="15.80" fill="#BF353A" />
<rect x="199.50" y="261.06" width="4.00" height="15.80" fill="#C8703A" />
<rect x="203.00" y="261.06" width="12.40" height="15.80" fill="#DC9A3F" />
<rect x="270.20" y="261.06" width="6.80" height="15.80" fill="#EBB633" />
<rect x="276.50" y="261.06" width="7.20" height="15.80" fill="#F5D632" />
<circle cx="236.7" cy="268.66" r="3.6" fill="none" stroke="#262626" stroke-width="1.1"/>
<path d="M253.20,268.66 H263.60 M258.40,263.46 V273.86" fill="none" stroke="#262626" stroke-width="1.1"/>
<rect x="196.60" y="284.49" width="85.10" height="15.80" fill="#DAD6D7" />
<rect x="196.60" y="284.49" width="1.90" height="15.80" fill="#C8703A" />
<rect x="198.00" y="284.49" width="7.90" height="15.80" fill="#EBB633" />
<path d="M202.70,292.09 L207.30,287.49 L211.90,292.09 L207.30,296.69 Z" fill="none" stroke="#262626" stroke-width="1.1"/>
<circle cx="213.7" cy="292.09000000000003" r="3.6" fill="none" stroke="#262626" stroke-width="1.1"/>
<path d="M241.90,292.09 H252.30 M247.10,286.89 V297.29" fill="none" stroke="#262626" stroke-width="1.1"/>
<path d="M322.70,295.49 L327.60,287.09 L332.50,295.49 Z" fill="none" stroke="#262626" stroke-width="1.1" stroke-linejoin="miter"/>
<rect x="196.60" y="307.92" width="62.60" height="15.80" fill="#DAD6D7" />
<rect x="196.60" y="307.92" width="24.20" height="15.80" fill="#DC9A3F" />
<rect x="220.30" y="307.92" width="1.20" height="15.80" fill="#F5D632" />
<circle cx="210.8" cy="315.52" r="3.6" fill="none" stroke="#262626" stroke-width="1.1"/>
<path d="M205.60,315.52 H216.00 M210.80,310.32 V320.72" fill="none" stroke="#262626" stroke-width="1.1"/>
<path d="M218.60,315.52 L223.20,310.92 L227.80,315.52 L223.20,320.12 Z" fill="none" stroke="#262626" stroke-width="1.1"/>
<path d="M277.60,318.92 L282.50,310.52 L287.40,318.92 Z" fill="none" stroke="#262626" stroke-width="1.1" stroke-linejoin="miter"/>
<rect x="196.60" y="331.35" width="40.10" height="15.80" fill="#DAD6D7" />
<rect x="196.60" y="331.35" width="2.60" height="15.80" fill="#F5D632" />
<circle cx="207.9" cy="338.95000000000005" r="3.6" fill="none" stroke="#262626" stroke-width="1.1"/>
<path d="M205.60,338.95 L210.20,334.35 L214.80,338.95 L210.20,343.55 Z" fill="none" stroke="#262626" stroke-width="1.1"/>
<path d="M270.50,338.95 H280.90 M275.70,333.75 V344.15" fill="none" stroke="#262626" stroke-width="1.1"/>
<path d="M322.70,342.35 L327.60,333.95 L332.50,342.35 Z" fill="none" stroke="#262626" stroke-width="1.1" stroke-linejoin="miter"/>
<rect x="196.60" y="354.78" width="37.20" height="15.80" fill="#DAD6D7" />
<rect x="196.60" y="354.78" width="2.90" height="15.80" fill="#C8703A" />
<rect x="199.00" y="354.78" width="4.00" height="15.80" fill="#BF353A" />
<rect x="226.90" y="354.78" width="2.10" height="15.80" fill="#F5D632" />
<circle cx="223.7" cy="362.38" r="3.6" fill="none" stroke="#262626" stroke-width="1.1"/>
<path d="M218.50,362.38 H228.90 M223.70,357.18 V367.58" fill="none" stroke="#262626" stroke-width="1.1"/>
<path d="M243.70,365.78 L248.60,357.38 L253.50,365.78 Z" fill="none" stroke="#262626" stroke-width="1.1" stroke-linejoin="miter"/>
<rect x="196.60" y="378.21" width="1.90" height="15.80" fill="#C8703A" />
<rect x="198.00" y="378.21" width="5.90" height="15.80" fill="#EBB633" />
<rect x="203.40" y="378.21" width="30.00" height="15.80" fill="#F5D632" />
<circle cx="222.8" cy="385.81" r="3.6" fill="none" stroke="#262626" stroke-width="1.1"/>
<path d="M237.40,385.81 H247.80 M242.60,380.61 V391.01" fill="none" stroke="#262626" stroke-width="1.1"/>
<path d="M286.60,389.21 L291.50,380.81 L296.40,389.21 Z" fill="none" stroke="#262626" stroke-width="1.1" stroke-linejoin="miter"/>
<rect x="196.60" y="401.64" width="36.80" height="15.80" fill="#DAD6D7" />
<rect x="196.60" y="401.64" width="2.40" height="15.80" fill="#EBB633" />
<rect x="198.50" y="401.64" width="2.00" height="15.80" fill="#DC9A3F" />
<rect x="200.00" y="401.64" width="1.50" height="15.80" fill="#F5D632" />
<rect x="224.60" y="401.64" width="8.80" height="15.80" fill="#EBB633" />
<circle cx="218.8" cy="409.24" r="3.6" fill="none" stroke="#262626" stroke-width="1.1"/>
<path d="M213.60,409.24 H224.00 M218.80,404.04 V414.44" fill="none" stroke="#262626" stroke-width="1.1"/>
<path d="M235.90,412.64 L240.80,404.24 L245.70,412.64 Z" fill="none" stroke="#262626" stroke-width="1.1" stroke-linejoin="miter"/>
<rect x="196.60" y="425.07" width="33.30" height="15.80" fill="#DAD6D7" />
<rect x="196.60" y="425.07" width="2.40" height="15.80" fill="#DC9A3F" />
<rect x="198.50" y="425.07" width="1.90" height="15.80" fill="#F5D632" />
<rect x="215.80" y="425.07" width="1.90" height="15.80" fill="#F5D632" />
<circle cx="212.6" cy="432.67" r="3.6" fill="none" stroke="#262626" stroke-width="1.1"/>
<path d="M205.10,432.67 H215.50 M210.30,427.47 V437.87" fill="none" stroke="#262626" stroke-width="1.1"/>
<path d="M249.70,436.07 L254.60,427.67 L259.50,436.07 Z" fill="none" stroke="#262626" stroke-width="1.1" stroke-linejoin="miter"/>
<rect x="196.60" y="448.50" width="30.30" height="15.80" fill="#DAD6D7" />
<rect x="196.60" y="448.50" width="4.30" height="15.80" fill="#F5D632" />
<rect x="200.40" y="448.50" width="2.30" height="15.80" fill="#EBB633" />
<rect x="206.00" y="448.50" width="2.50" height="15.80" fill="#F5D632" />
<rect x="208.00" y="448.50" width="2.80" height="15.80" fill="#EBB633" />
<circle cx="202.7" cy="456.1" r="3.6" fill="none" stroke="#262626" stroke-width="1.1"/>
<path d="M197.50,456.10 H207.90 M202.70,450.90 V461.30" fill="none" stroke="#262626" stroke-width="1.1"/>
<path d="M241.90,456.10 L246.50,451.50 L251.10,456.10 L246.50,460.70 Z" fill="none" stroke="#262626" stroke-width="1.1"/>
<path d="M322.60,459.50 L327.50,451.10 L332.40,459.50 Z" fill="none" stroke="#262626" stroke-width="1.1" stroke-linejoin="miter"/>
<rect x="196.60" y="471.93" width="28.00" height="15.80" fill="#DAD6D7" />
<rect x="196.60" y="471.93" width="4.30" height="15.80" fill="#BF353A" />
<rect x="200.40" y="471.93" width="3.10" height="15.80" fill="#C8703A" />
<rect x="203.00" y="471.93" width="3.00" height="15.80" fill="#DC9A3F" />
<rect x="205.50" y="471.93" width="8.70" height="15.80" fill="#F5D632" />
<rect x="217.70" y="471.93" width="6.90" height="15.80" fill="#DC9A3F" />
<circle cx="208" cy="479.53000000000003" r="3.6" fill="none" stroke="#262626" stroke-width="1.1"/>
<path d="M202.80,479.53 H213.20 M208.00,474.33 V484.73" fill="none" stroke="#262626" stroke-width="1.1"/>
<path d="M221.60,482.93 L226.50,474.53 L231.40,482.93 Z" fill="none" stroke="#262626" stroke-width="1.1" stroke-linejoin="miter"/>
<rect x="196.60" y="495.36" width="26.20" height="15.80" fill="#DAD6D7" />
<rect x="196.60" y="495.36" width="1.90" height="15.80" fill="#EBB633" />
<rect x="198.00" y="495.36" width="3.00" height="15.80" fill="#F5D632" />
<rect x="213.00" y="495.36" width="5.50" height="15.80" fill="#F5D632" />
<rect x="218.00" y="495.36" width="1.50" height="15.80" fill="#EBB633" />
<circle cx="210.8" cy="502.96" r="3.6" fill="none" stroke="#262626" stroke-width="1.1"/>
<path d="M205.60,502.96 H216.00 M210.80,497.76 V508.16" fill="none" stroke="#262626" stroke-width="1.1"/>
<path d="M223.90,506.36 L228.80,497.96 L233.70,506.36 Z" fill="none" stroke="#262626" stroke-width="1.1" stroke-linejoin="miter"/>
<rect x="196.60" y="518.79" width="3.60" height="15.80" fill="#C8703A" />
<rect x="199.70" y="518.79" width="3.80" height="15.80" fill="#EBB633" />
<rect x="203.00" y="518.79" width="17.70" height="15.80" fill="#F5D632" />
<circle cx="220.7" cy="526.39" r="3.6" fill="none" stroke="#262626" stroke-width="1.1"/>
<path d="M228.00,526.39 H238.40 M233.20,521.19 V531.59" fill="none" stroke="#262626" stroke-width="1.1"/>
<path d="M243.90,529.79 L248.80,521.39 L253.70,529.79 Z" fill="none" stroke="#262626" stroke-width="1.1" stroke-linejoin="miter"/>
<line x1="190.2" y1="207.8" x2="190.2" y2="541.5" stroke="#2a2a2a" stroke-width="1" />
<line x1="189.7" y1="541.0" x2="333.9" y2="541.0" stroke="#2a2a2a" stroke-width="1" />
<line x1="186.8" y1="221.8" x2="190.2" y2="221.8" stroke="#2a2a2a" stroke-width="1" />
<text x="184.2" y="224.5" font-size="7.5" text-anchor="end" fill="#2a2a2a" stroke="#2a2a2a" stroke-width="0.22" >24</text>
<line x1="186.8" y1="245.23000000000002" x2="190.2" y2="245.23000000000002" stroke="#2a2a2a" stroke-width="1" />
<text x="184.2" y="247.93" font-size="7.5" text-anchor="end" fill="#2a2a2a" stroke="#2a2a2a" stroke-width="0.22" >25</text>
<line x1="186.8" y1="268.66" x2="190.2" y2="268.66" stroke="#2a2a2a" stroke-width="1" />
<text x="184.2" y="271.36" font-size="7.5" text-anchor="end" fill="#2a2a2a" stroke="#2a2a2a" stroke-width="0.22" >26</text>
<line x1="186.8" y1="292.09000000000003" x2="190.2" y2="292.09000000000003" stroke="#2a2a2a" stroke-width="1" />
<text x="184.2" y="294.79" font-size="7.5" text-anchor="end" fill="#2a2a2a" stroke="#2a2a2a" stroke-width="0.22" >27</text>
<line x1="186.8" y1="315.52" x2="190.2" y2="315.52" stroke="#2a2a2a" stroke-width="1" />
<text x="184.2" y="318.21999999999997" font-size="7.5" text-anchor="end" fill="#2a2a2a" stroke="#2a2a2a" stroke-width="0.22" >28</text>
<line x1="186.8" y1="338.95000000000005" x2="190.2" y2="338.95000000000005" stroke="#2a2a2a" stroke-width="1" />
<text x="184.2" y="341.65000000000003" font-size="7.5" text-anchor="end" fill="#2a2a2a" stroke="#2a2a2a" stroke-width="0.22" >29</text>
<line x1="186.8" y1="362.38" x2="190.2" y2="362.38" stroke="#2a2a2a" stroke-width="1" />
<text x="184.2" y="365.08" font-size="7.5" text-anchor="end" fill="#2a2a2a" stroke="#2a2a2a" stroke-width="0.22" >30</text>
<line x1="186.8" y1="385.81" x2="190.2" y2="385.81" stroke="#2a2a2a" stroke-width="1" />
<text x="184.2" y="388.51" font-size="7.5" text-anchor="end" fill="#2a2a2a" stroke="#2a2a2a" stroke-width="0.22" >31</text>
<line x1="186.8" y1="409.24" x2="190.2" y2="409.24" stroke="#2a2a2a" stroke-width="1" />
<text x="184.2" y="411.94" font-size="7.5" text-anchor="end" fill="#2a2a2a" stroke="#2a2a2a" stroke-width="0.22" >32</text>
<line x1="186.8" y1="432.67" x2="190.2" y2="432.67" stroke="#2a2a2a" stroke-width="1" />
<text x="184.2" y="435.37" font-size="7.5" text-anchor="end" fill="#2a2a2a" stroke="#2a2a2a" stroke-width="0.22" >33</text>
<line x1="186.8" y1="456.1" x2="190.2" y2="456.1" stroke="#2a2a2a" stroke-width="1" />
<text x="184.2" y="458.8" font-size="7.5" text-anchor="end" fill="#2a2a2a" stroke="#2a2a2a" stroke-width="0.22" >34</text>
<line x1="186.8" y1="479.53000000000003" x2="190.2" y2="479.53000000000003" stroke="#2a2a2a" stroke-width="1" />
<text x="184.2" y="482.23" font-size="7.5" text-anchor="end" fill="#2a2a2a" stroke="#2a2a2a" stroke-width="0.22" >35</text>
<line x1="186.8" y1="502.96" x2="190.2" y2="502.96" stroke="#2a2a2a" stroke-width="1" />
<text x="184.2" y="505.65999999999997" font-size="7.5" text-anchor="end" fill="#2a2a2a" stroke="#2a2a2a" stroke-width="0.22" >36</text>
<line x1="186.8" y1="526.39" x2="190.2" y2="526.39" stroke="#2a2a2a" stroke-width="1" />
<text x="184.2" y="529.09" font-size="7.5" text-anchor="end" fill="#2a2a2a" stroke="#2a2a2a" stroke-width="0.22" >37</text>
<line x1="196.1" y1="541.0" x2="196.1" y2="544.0" stroke="#2a2a2a" stroke-width="1" />
<text x="196.1" y="553.8" font-size="7.5" text-anchor="middle" fill="#2a2a2a" stroke="#2a2a2a" stroke-width="0.22" >0</text>
<line x1="239.89999999999998" y1="541.0" x2="239.89999999999998" y2="544.0" stroke="#2a2a2a" stroke-width="1" />
<text x="239.89999999999998" y="553.8" font-size="7.5" text-anchor="middle" fill="#2a2a2a" stroke="#2a2a2a" stroke-width="0.22" >200</text>
<line x1="283.7" y1="541.0" x2="283.7" y2="544.0" stroke="#2a2a2a" stroke-width="1" />
<text x="283.7" y="553.8" font-size="7.5" text-anchor="middle" fill="#2a2a2a" stroke="#2a2a2a" stroke-width="0.22" >400</text>
<line x1="327.5" y1="541.0" x2="327.5" y2="544.0" stroke="#2a2a2a" stroke-width="1" />
<text x="327.5" y="553.8" font-size="7.5" text-anchor="middle" fill="#2a2a2a" stroke="#2a2a2a" stroke-width="0.22" >600</text>
<text x="191.5" y="566.6" font-size="9.6" text-anchor="start" fill="#2a2a2a" stroke="#2a2a2a" stroke-width="0.22" textLength="141.3" lengthAdjust="spacingAndGlyphs" >Time after CAR-T cell infusion (days)</text>
<rect x="364.50" y="232.20" width="2.50" height="16.00" fill="#EBB633" />
<rect x="366.50" y="232.20" width="2.20" height="16.00" fill="#BF353A" />
<rect x="368.20" y="232.20" width="3.20" height="16.00" fill="#C8703A" />
<rect x="370.90" y="232.20" width="8.50" height="16.00" fill="#DC9A3F" />
<rect x="378.90" y="232.20" width="19.80" height="16.00" fill="#F5D632" />
<path d="M373.50,240.20 H383.90 M378.70,235.00 V245.40" fill="none" stroke="#262626" stroke-width="1.1"/>
<path d="M402.70,243.60 L407.60,235.20 L412.50,243.60 Z" fill="none" stroke="#262626" stroke-width="1.1" stroke-linejoin="miter"/>
<rect x="364.50" y="285.83" width="25.70" height="16.00" fill="#DAD6D7" />
<rect x="364.50" y="285.83" width="6.80" height="16.00" fill="#C8703A" />
<rect x="370.80" y="285.83" width="1.70" height="16.00" fill="#BF353A" />
<rect x="372.00" y="285.83" width="8.20" height="16.00" fill="#EBB633" />
<path d="M366.80,293.83 H377.20 M372.00,288.63 V299.03" fill="none" stroke="#262626" stroke-width="1.1"/>
<path d="M381.30,293.83 L385.90,289.23 L390.50,293.83 L385.90,298.43 Z" fill="none" stroke="#262626" stroke-width="1.1"/>
<path d="M391.90,297.23 L396.80,288.83 L401.70,297.23 Z" fill="none" stroke="#262626" stroke-width="1.1" stroke-linejoin="miter"/>
<rect x="364.50" y="339.46" width="5.40" height="16.00" fill="#BF353A" />
<rect x="369.40" y="339.46" width="19.60" height="16.00" fill="#F5D632" />
<path d="M382.90,347.46 H393.30 M388.10,342.26 V352.66" fill="none" stroke="#262626" stroke-width="1.1"/>
<path d="M385.80,350.86 L390.70,342.46 L395.60,350.86 Z" fill="none" stroke="#262626" stroke-width="1.1" stroke-linejoin="miter"/>
<rect x="364.50" y="393.09" width="5.40" height="16.00" fill="#BF353A" />
<rect x="369.40" y="393.09" width="8.80" height="16.00" fill="#DC9A3F" />
<rect x="377.70" y="393.09" width="8.20" height="16.00" fill="#EBB633" />
<path d="M380.70,401.09 H391.10 M385.90,395.89 V406.29" fill="none" stroke="#262626" stroke-width="1.1"/>
<path d="M406.10,404.49 L411.00,396.09 L415.90,404.49 Z" fill="none" stroke="#262626" stroke-width="1.1" stroke-linejoin="miter"/>
<rect x="364.50" y="446.72" width="3.70" height="16.00" fill="#BF353A" />
<rect x="367.70" y="446.72" width="2.80" height="16.00" fill="#C8703A" />
<rect x="370.00" y="446.72" width="3.50" height="16.00" fill="#DC9A3F" />
<rect x="373.00" y="446.72" width="4.70" height="16.00" fill="#EBB633" />
<rect x="377.20" y="446.72" width="8.70" height="16.00" fill="#F5D632" />
<path d="M372.80,454.72 H383.20 M378.00,449.52 V459.92" fill="none" stroke="#262626" stroke-width="1.1"/>
<path d="M390.80,458.12 L395.70,449.72 L400.60,458.12 Z" fill="none" stroke="#262626" stroke-width="1.1" stroke-linejoin="miter"/>
<rect x="364.50" y="500.35" width="3.00" height="16.00" fill="#BF353A" />
<rect x="367.00" y="500.35" width="4.50" height="16.00" fill="#C8703A" />
<rect x="371.00" y="500.35" width="6.90" height="16.00" fill="#EBB633" />
<rect x="377.40" y="500.35" width="6.90" height="16.00" fill="#F5D632" />
<path d="M393.00,508.35 H403.40 M398.20,503.15 V513.55" fill="none" stroke="#262626" stroke-width="1.1"/>
<path d="M436.50,511.75 L441.40,503.35 L446.30,511.75 Z" fill="none" stroke="#262626" stroke-width="1.1" stroke-linejoin="miter"/>
<line x1="358.5" y1="207.8" x2="358.5" y2="541.1" stroke="#2a2a2a" stroke-width="1" />
<line x1="358.0" y1="540.6" x2="502.0" y2="540.6" stroke="#2a2a2a" stroke-width="1" />
<line x1="355.1" y1="240.2" x2="358.5" y2="240.2" stroke="#2a2a2a" stroke-width="1" />
<text x="352.4" y="242.89999999999998" font-size="7.5" text-anchor="end" fill="#2a2a2a" stroke="#2a2a2a" stroke-width="0.22" >38</text>
<line x1="355.1" y1="293.83" x2="358.5" y2="293.83" stroke="#2a2a2a" stroke-width="1" />
<text x="352.4" y="296.53" font-size="7.5" text-anchor="end" fill="#2a2a2a" stroke="#2a2a2a" stroke-width="0.22" >39</text>
<line x1="355.1" y1="347.46" x2="358.5" y2="347.46" stroke="#2a2a2a" stroke-width="1" />
<text x="352.4" y="350.15999999999997" font-size="7.5" text-anchor="end" fill="#2a2a2a" stroke="#2a2a2a" stroke-width="0.22" >40</text>
<line x1="355.1" y1="401.09000000000003" x2="358.5" y2="401.09000000000003" stroke="#2a2a2a" stroke-width="1" />
<text x="352.4" y="403.79" font-size="7.5" text-anchor="end" fill="#2a2a2a" stroke="#2a2a2a" stroke-width="0.22" >41</text>
<line x1="355.1" y1="454.72" x2="358.5" y2="454.72" stroke="#2a2a2a" stroke-width="1" />
<text x="352.4" y="457.42" font-size="7.5" text-anchor="end" fill="#2a2a2a" stroke="#2a2a2a" stroke-width="0.22" >42</text>
<line x1="355.1" y1="508.35" x2="358.5" y2="508.35" stroke="#2a2a2a" stroke-width="1" />
<text x="352.4" y="511.05" font-size="7.5" text-anchor="end" fill="#2a2a2a" stroke="#2a2a2a" stroke-width="0.22" >43</text>
<line x1="364.2" y1="540.6" x2="364.2" y2="543.6" stroke="#2a2a2a" stroke-width="1" />
<text x="364.2" y="553.8" font-size="7.5" text-anchor="middle" fill="#2a2a2a" stroke="#2a2a2a" stroke-width="0.22" >0</text>
<line x1="407.83" y1="540.6" x2="407.83" y2="543.6" stroke="#2a2a2a" stroke-width="1" />
<text x="407.83" y="553.8" font-size="7.5" text-anchor="middle" fill="#2a2a2a" stroke="#2a2a2a" stroke-width="0.22" >200</text>
<line x1="451.46" y1="540.6" x2="451.46" y2="543.6" stroke="#2a2a2a" stroke-width="1" />
<text x="451.46" y="553.8" font-size="7.5" text-anchor="middle" fill="#2a2a2a" stroke="#2a2a2a" stroke-width="0.22" >400</text>
<line x1="495.09000000000003" y1="540.6" x2="495.09000000000003" y2="543.6" stroke="#2a2a2a" stroke-width="1" />
<text x="495.09000000000003" y="553.8" font-size="7.5" text-anchor="middle" fill="#2a2a2a" stroke="#2a2a2a" stroke-width="0.22" >600</text>
<text x="451.8" y="245.6" font-size="7.6" text-anchor="start" fill="#2a2a2a" stroke="#2a2a2a" stroke-width="0.22" textLength="23.2" lengthAdjust="spacingAndGlyphs" >Legend</text>
<line x1="451.8" y1="247.6" x2="475.0" y2="247.6" stroke="#2a2a2a" stroke-width="0.6" />
<circle cx="443.8" cy="254.6" r="3.7" fill="none" stroke="#262626" stroke-width="1.1"/>
<text x="451.8" y="257.2" font-size="7.6" text-anchor="start" fill="#2a2a2a" stroke="#2a2a2a" stroke-width="0.22" textLength="44" lengthAdjust="spacingAndGlyphs" >B cell recovery</text>
<path d="M438.90,274.20 L443.80,265.80 L448.70,274.20 Z" fill="none" stroke="#262626" stroke-width="1.1" stroke-linejoin="miter"/>
<text x="451.8" y="272.4" font-size="7.6" text-anchor="start" fill="#2a2a2a" stroke="#2a2a2a" stroke-width="0.22" textLength="18" lengthAdjust="spacingAndGlyphs" >death</text>
<path d="M438.60,288.00 H449.00 M443.80,282.80 V293.20" fill="none" stroke="#262626" stroke-width="1.1"/>
<text x="451.8" y="289.8" font-size="7.6" text-anchor="start" fill="#2a2a2a" stroke="#2a2a2a" stroke-width="0.22" textLength="22.5" lengthAdjust="spacingAndGlyphs" >relapse</text>
<path d="M439.00,305.00 L443.80,300.20 L448.60,305.00 L443.80,309.80 Z" fill="none" stroke="#262626" stroke-width="1.1"/>
<text x="451.8" y="307.1" font-size="7.6" text-anchor="start" fill="#2a2a2a" stroke="#2a2a2a" stroke-width="0.22" textLength="46.7" lengthAdjust="spacingAndGlyphs" >allogeneic HCT</text>
<text x="464.5" y="325.0" font-size="7.6" text-anchor="middle" fill="#2a2a2a" stroke="#2a2a2a" stroke-width="0.22" textLength="53" lengthAdjust="spacingAndGlyphs" >transgene copies</text>
<text x="464.4" y="333.5" font-size="7.6" text-anchor="middle" fill="#2a2a2a" stroke="#2a2a2a" stroke-width="0.22" textLength="27.2" lengthAdjust="spacingAndGlyphs" >/µg DNA</text>
<rect x="435.80" y="338.50" width="16.00" height="12.80" fill="#DAD6D7" />
<text x="454.8" y="347.40" font-size="7.4" fill="#2a2a2a" stroke="#2a2a2a" stroke-width="0.15">&lt; 10<tspan font-size="4.6" dy="-3.1">1</tspan></text>
<rect x="435.80" y="353.80" width="16.00" height="12.80" fill="#F5D632" />
<text x="455.2" y="362.70" font-size="7.4" fill="#2a2a2a" stroke="#2a2a2a" stroke-width="0.15" textLength="25.4" lengthAdjust="spacingAndGlyphs">10<tspan font-size="4.6" dy="-3.1">2</tspan><tspan dy="3.1">&gt; 10</tspan><tspan font-size="4.6" dy="-3.1">1</tspan></text>
<rect x="435.80" y="368.90" width="16.00" height="12.80" fill="#EBB633" />
<text x="455.2" y="377.80" font-size="7.4" fill="#2a2a2a" stroke="#2a2a2a" stroke-width="0.15" textLength="25.4" lengthAdjust="spacingAndGlyphs">10<tspan font-size="4.6" dy="-3.1">3</tspan><tspan dy="3.1">&gt; 10</tspan><tspan font-size="4.6" dy="-3.1">2</tspan></text>
<rect x="435.80" y="384.20" width="16.00" height="12.80" fill="#DC9A3F" />
<text x="455.2" y="393.10" font-size="7.4" fill="#2a2a2a" stroke="#2a2a2a" stroke-width="0.15" textLength="25.4" lengthAdjust="spacingAndGlyphs">10<tspan font-size="4.6" dy="-3.1">4</tspan><tspan dy="3.1">&gt; 10</tspan><tspan font-size="4.6" dy="-3.1">3</tspan></text>
<rect x="435.80" y="399.30" width="16.00" height="12.80" fill="#C8703A" />
<text x="455.2" y="408.20" font-size="7.4" fill="#2a2a2a" stroke="#2a2a2a" stroke-width="0.15" textLength="25.4" lengthAdjust="spacingAndGlyphs">10<tspan font-size="4.6" dy="-3.1">5</tspan><tspan dy="3.1">&gt; 10</tspan><tspan font-size="4.6" dy="-3.1">4</tspan></text>
<rect x="435.80" y="414.60" width="16.00" height="12.80" fill="#BF353A" />
<text x="454.8" y="423.50" font-size="7.4" fill="#2a2a2a" stroke="#2a2a2a" stroke-width="0.15">&gt; 10<tspan font-size="4.6" dy="-3.1">5</tspan></text>
<rect x="0.6" y="0.6" width="518.8" height="574.8" fill="none" stroke="#4a4a4a" stroke-width="1.3"/>
</svg>
</body></html>
